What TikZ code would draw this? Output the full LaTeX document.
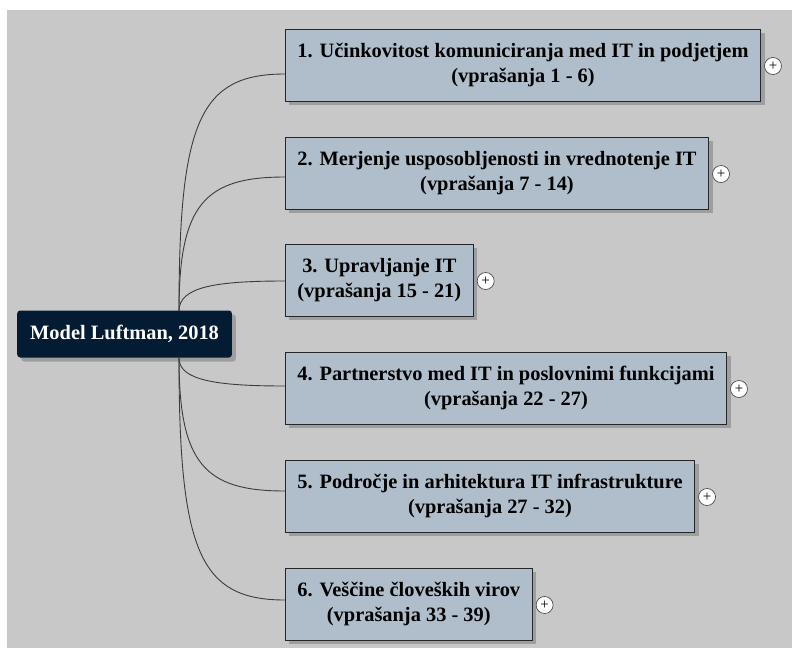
\documentclass[tikz,border=0pt]{standalone}
\usepackage{fontspec}
\setmainfont{Liberation Serif}
\usetikzlibrary{shadows}
\definecolor{Canvas}{RGB}{200,200,200}
\definecolor{Topic}{RGB}{176,190,204}
\definecolor{Root}{RGB}{3,27,51}
\definecolor{Shade}{RGB}{158,158,158}
\definecolor{Link}{RGB}{60,60,60}

\begin{document}
\begin{tikzpicture}[x=1pt,y=-1pt,
  topic/.style={draw=black!85, line width=0.9pt, fill=Topic, anchor=west, align=center,
    font=\fontsize{20.4}{25}\selectfont\bfseries, inner xsep=12pt, minimum height=72pt,
    drop shadow={shadow xshift=4pt, shadow yshift=-4pt, fill=Shade, opacity=1}},
  root/.style={fill=Root, text=white, rounded corners=3pt, anchor=west,
    font=\fontsize{20.4}{25}\selectfont\bfseries, inner xsep=13pt, minimum height=47pt,
    drop shadow={shadow xshift=4pt, shadow yshift=-4pt, fill=Shade, opacity=1}},
  plus/.style={circle, draw=black!70, line width=0.7pt, fill=white, minimum size=17pt,
    inner sep=0pt, font=\fontsize{15}{15}\selectfont},
  link/.style={draw=Link, line width=0.9pt}]
\useasboundingbox (0,0) rectangle (792,648);
\fill[Canvas] (7,10) rectangle (792,648);

% topics
\node[topic] (b1) at (285,65) {1. Učinkovitost komuniciranja med IT in podjetjem\\(vprašanja 1 - 6)};
\node[topic] (b2) at (285,173) {2. Merjenje usposobljenosti in vrednotenje IT\\(vprašanja 7 - 14)};
\node[topic] (b3) at (285,280) {3. Upravljanje IT\\(vprašanja 15 - 21)};
\node[topic] (b4) at (285,388) {4. Partnerstvo med IT in poslovnimi funkcijami\\(vprašanja 22 - 27)};
\node[topic] (b5) at (285,496) {5. Področje in arhitektura IT infrastrukture\\(vprašanja 27 - 32)};
\node[topic] (b6) at (285,604) {6. Veščine človeških virov\\(vprašanja 33 - 39)};

\node[root] (root) at (17,334) {Model Luftman, 2018};
\coordinate (hubN) at (179,311);
\coordinate (hubS) at (179,358);

% links
\draw[link] (hubN) .. controls +(0,-190) and +(-85,0) .. ([yshift=-9pt]b1.west);
\draw[link] (hubN) .. controls +(0,-107) and +(-80,0) .. ([yshift=-4pt]b2.west);
\draw[link] (hubN) .. controls +(0,-24) and +(-70,0) .. ([yshift=-1pt]b3.west);
\draw[link] (hubS) .. controls +(0,22) and +(-70,0) .. ([yshift=2pt]b4.west);
\draw[link] (hubS) .. controls +(0,106) and +(-80,0) .. ([yshift=5pt]b5.west);
\draw[link] (hubS) .. controls +(0,194) and +(-85,0) .. ([yshift=4pt]b6.west);

% expanders
\node[plus] (p1) at ([xshift=12pt,yshift=-1pt]b1.east) {+};
\node[plus] (p2) at ([xshift=12pt,yshift=-1pt]b2.east) {+};
\node[plus] (p3) at ([xshift=12pt,yshift=-1pt]b3.east) {+};
\node[plus] (p4) at ([xshift=12pt,yshift=-1pt]b4.east) {+};
\node[plus] (p5) at ([xshift=12pt,yshift=-1pt]b5.east) {+};
\node[plus] (p6) at ([xshift=12pt,yshift=-1pt]b6.east) {+};
\end{tikzpicture}
\end{document}
